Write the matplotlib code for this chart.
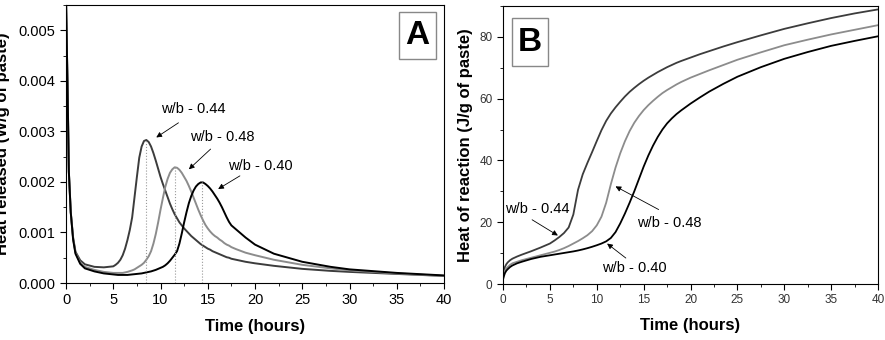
import matplotlib
matplotlib.use("Agg")
import matplotlib.pyplot as plt
from matplotlib.ticker import MultipleLocator, FormatStrFormatter
from matplotlib.patches import Rectangle

plt.rcParams['font.family'] = ['Liberation Sans', 'DejaVu Sans']

# Panel A : heat flow (W/g of paste), values in 1e-3 W/g
time_a = [0, 0.15, 0.3, 0.5, 0.75, 1, 1.5, 2, 3, 4,
          5.0, 5.25, 5.5, 5.75, 6.0, 6.25, 6.5, 6.75, 7.0, 7.25, 7.5, 7.75,
          8.0, 8.25, 8.5, 8.75, 9.0, 9.25, 9.5, 9.75, 10.0, 10.25, 10.5, 10.75,
          11.0, 11.25, 11.5, 11.75, 12.0, 12.25, 12.5, 12.75, 13.0, 13.25, 13.5,
          13.75, 14.0, 14.25, 14.5, 14.75, 15.0, 15.25, 15.5, 15.75, 16.0, 16.25,
          16.5, 16.75, 17.0, 17.25, 17.5, 17.75, 18.0,
          19, 20, 22, 25, 28, 30, 35, 40]
flow_044 = [5.6, 4.0, 2.2, 1.4, 0.9, 0.62, 0.45, 0.37, 0.32, 0.31,
            0.33, 0.36, 0.40, 0.46, 0.55, 0.68, 0.85, 1.05, 1.3, 1.7, 2.1, 2.48,
            2.7, 2.81, 2.83, 2.79, 2.7, 2.57, 2.42, 2.26, 2.1, 1.96, 1.83, 1.70,
            1.57, 1.46, 1.36, 1.28, 1.2, 1.14, 1.08, 1.03, 0.98, 0.93, 0.89,
            0.85, 0.81, 0.77, 0.74, 0.71, 0.68, 0.66, 0.63, 0.61, 0.59, 0.57,
            0.55, 0.53, 0.51, 0.50, 0.48, 0.47, 0.46,
            0.42, 0.39, 0.34, 0.28, 0.24, 0.22, 0.18, 0.14]
flow_048 = [5.6, 4.0, 2.2, 1.4, 0.88, 0.6, 0.4, 0.32, 0.26, 0.22,
            0.2, 0.2, 0.2, 0.2, 0.2, 0.21, 0.22, 0.235, 0.25, 0.27, 0.3, 0.33,
            0.36, 0.4, 0.46, 0.53, 0.63, 0.78, 0.97, 1.2, 1.45, 1.68, 1.9, 2.06,
            2.18, 2.25, 2.29, 2.28, 2.24, 2.18, 2.1, 2.02, 1.92, 1.81, 1.69,
            1.57, 1.45, 1.34, 1.24, 1.15, 1.08, 1.02, 0.97, 0.93, 0.9, 0.86,
            0.83, 0.79, 0.76, 0.74, 0.71, 0.69, 0.67,
            0.6, 0.55, 0.46, 0.36, 0.29, 0.25, 0.19, 0.14]
flow_040 = [5.6, 4.0, 2.2, 1.4, 0.86, 0.58, 0.38, 0.29, 0.23, 0.19,
            0.17, 0.165, 0.16, 0.16, 0.16, 0.16, 0.16, 0.165, 0.17, 0.175, 0.18,
            0.185, 0.19, 0.2, 0.21, 0.22, 0.23, 0.245, 0.26, 0.28, 0.3, 0.32,
            0.35, 0.39, 0.44, 0.5, 0.56, 0.63, 0.78, 0.98, 1.2, 1.4, 1.58, 1.72,
            1.83, 1.91, 1.96, 1.99, 1.99, 1.96, 1.92, 1.87, 1.81, 1.74, 1.67,
            1.59, 1.5, 1.4, 1.3, 1.21, 1.14, 1.1, 1.06,
            0.9, 0.76, 0.58, 0.42, 0.32, 0.27, 0.2, 0.15]
peak_times = [8.45, 11.55, 14.35]
peak_values = [2.83, 2.29, 1.99]

# Panel B : cumulative heat (J/g of paste)
time_b = [0, 0.1, 0.2, 0.35, 0.5, 0.75, 1, 1.5, 2, 3, 4, 5,
          5.5, 6, 6.5, 7, 7.5, 8, 8.5, 9, 9.5, 10, 10.5, 11, 11.5, 12, 12.5,
          13, 13.5, 14, 14.5, 15, 15.5, 16, 16.5, 17, 17.5, 18, 18.5, 19,
          20, 21, 22, 23.5, 25, 27.5, 30, 32.5, 35, 37.5, 40]
heat_044 = [2.5, 4.5, 5.5, 6.4, 7.0, 7.7, 8.2, 8.9, 9.5, 10.6, 11.8, 13.1,
            14.1, 15.2, 16.5, 18.3, 22.5, 30.5, 35.5, 39.2, 42.7, 46.3, 49.8,
            52.8, 55.2, 57.2, 59.0, 60.7, 62.2, 63.5, 64.7, 65.8, 66.8, 67.7,
            68.6, 69.4, 70.2, 70.9, 71.6, 72.2,
            73.3, 74.4, 75.4, 76.9, 78.3, 80.5, 82.6, 84.4, 86.1, 87.6, 88.9]
heat_048 = [2.0, 3.4, 4.3, 5.0, 5.5, 6.2, 6.7, 7.2, 7.7, 8.5, 9.3, 10.1,
            10.5, 11.0, 11.6, 12.3, 13.1, 13.9, 14.8, 15.8, 17.1, 19.0, 21.8,
            26.3, 32.3, 37.7, 42.3, 46.2, 49.5, 52.2, 54.4, 56.3, 57.9, 59.3,
            60.6, 61.8, 62.8, 63.7, 64.6, 65.4,
            66.8, 68.0, 69.2, 70.9, 72.6, 75.0, 77.3, 79.1, 80.8, 82.3, 83.8]
heat_040 = [1.5, 2.6, 3.5, 4.3, 4.8, 5.5, 6.0, 6.7, 7.2, 8.1, 8.8, 9.3,
            9.55, 9.8, 10.05, 10.3, 10.55, 10.85, 11.2, 11.6, 12.05, 12.55,
            13.1, 13.8, 14.9, 16.8, 19.6, 22.8, 26.3, 30.0, 34.0, 38.0, 41.6,
            44.8, 47.6, 50.0, 52.0, 53.6, 55.0, 56.2,
            58.4, 60.4, 62.3, 64.8, 67.1, 70.2, 72.9, 75.1, 77.1, 78.7, 80.2]

c044, c048, c040 = '#3c3c3c', '#8c8c8c', '#000000'

fig = plt.figure(figsize=(8.85, 3.4), dpi=100)
axA = fig.add_axes([0.0746, 0.1676, 0.4271, 0.8176])
axB = fig.add_axes([0.5684, 0.1647, 0.4237, 0.8176])

# ---- panel A
axA.plot(time_a, [v * 1e-3 for v in flow_044], color=c044, lw=1.4)
axA.plot(time_a, [v * 1e-3 for v in flow_048], color=c048, lw=1.4)
axA.plot(time_a, [v * 1e-3 for v in flow_040], color=c040, lw=1.4)
axA.vlines(peak_times, 0, [v * 1e-3 for v in peak_values], colors='#999999',
           linestyles=':', lw=0.8)
axA.set_xlim(0, 40)
axA.set_ylim(0, 0.0055)
axA.xaxis.set_major_locator(MultipleLocator(5))
axA.xaxis.set_minor_locator(MultipleLocator(2.5))
axA.yaxis.set_major_locator(MultipleLocator(0.001))
axA.yaxis.set_minor_locator(MultipleLocator(0.0005))
axA.yaxis.set_major_formatter(FormatStrFormatter('%.3f'))
axA.tick_params(which='major', direction='out', length=4, labelsize=10.5)
axA.tick_params(which='minor', direction='out', length=2.5)
axA.set_xlabel('Time (hours)', fontsize=12, fontweight='bold', labelpad=8)
axA.set_ylabel('Heat released (W/g of paste)', fontsize=12, fontweight='bold')
axA.yaxis.set_label_coords(-0.148, 0.5)

arrow = dict(arrowstyle='-|>', color='black', lw=0.6, mutation_scale=8,
             shrinkA=0, shrinkB=0)
axA.text(13.5, 0.00344, 'w/b - 0.44', ha='center', va='center', fontsize=10.5)
axA.annotate('', xy=(9.55, 0.00288), xytext=(11.9, 0.00317), arrowprops=arrow)
axA.text(16.5, 0.00288, 'w/b - 0.48', ha='center', va='center', fontsize=10.5)
axA.annotate('', xy=(13.0, 0.00225), xytext=(15.3, 0.00265), arrowprops=arrow)
axA.text(20.6, 0.00232, 'w/b - 0.40', ha='center', va='center', fontsize=10.5)
axA.annotate('', xy=(16.1, 0.00186), xytext=(18.4, 0.00212), arrowprops=arrow)

axA.add_patch(Rectangle((0.882, 0.805), 0.096, 0.171, transform=axA.transAxes,
                        fill=False, edgecolor='#888888', lw=1))
axA.text(0.93, 0.89, 'A', transform=axA.transAxes, ha='center', va='center',
         fontsize=24, fontweight='bold')

# ---- panel B
axB.plot(time_b, heat_044, color=c044, lw=1.3)
axB.plot(time_b, heat_048, color=c048, lw=1.3)
axB.plot(time_b, heat_040, color=c040, lw=1.3)
axB.set_xlim(0, 40)
axB.set_ylim(0, 90)
axB.xaxis.set_major_locator(MultipleLocator(5))
axB.xaxis.set_minor_locator(MultipleLocator(2.5))
axB.yaxis.set_major_locator(MultipleLocator(20))
axB.yaxis.set_minor_locator(MultipleLocator(10))
axB.tick_params(which='major', direction='out', length=4, labelsize=8.5,
                labelcolor='#333333')
axB.tick_params(which='minor', direction='out', length=2.5)
axB.set_xlabel('Time (hours)', fontsize=12, fontweight='bold', labelpad=8)
axB.set_ylabel('Heat of reaction (J/g of paste)', fontsize=12, fontweight='bold')
axB.yaxis.set_label_coords(-0.08, 0.5)

axB.text(3.7, 24.3, 'w/b - 0.44', ha='center', va='center', fontsize=10.5)
axB.annotate('', xy=(5.85, 15.7), xytext=(3.1, 20.8), arrowprops=arrow)
axB.text(17.7, 19.8, 'w/b - 0.48', ha='center', va='center', fontsize=10.5)
axB.annotate('', xy=(12.0, 31.6), xytext=(16.6, 24.1), arrowprops=arrow)
axB.text(14.0, 5.2, 'w/b - 0.40', ha='center', va='center', fontsize=10.5)
axB.annotate('', xy=(11.1, 13.1), xytext=(13.1, 8.4), arrowprops=arrow)

axB.add_patch(Rectangle((0.023, 0.784), 0.098, 0.172, transform=axB.transAxes,
                        fill=False, edgecolor='#888888', lw=1))
axB.text(0.072, 0.87, 'B', transform=axB.transAxes, ha='center', va='center',
         fontsize=24, fontweight='bold')

fig.savefig('out.png', dpi=100)
